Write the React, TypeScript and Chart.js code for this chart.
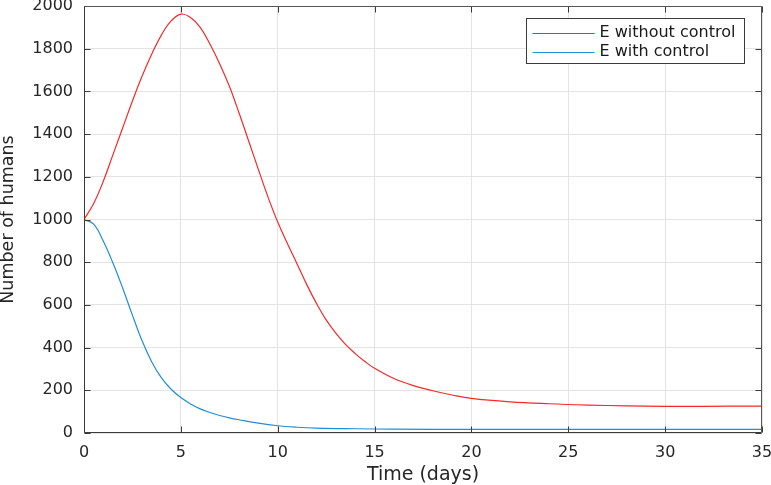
import React, { useEffect, useRef } from 'react';
import { Chart, registerables } from 'chart.js';

Chart.register(...registerables);

// Time (days) samples and values
const tWithout = [0, 0.5, 1, 1.5, 2, 2.5, 3, 3.5, 4, 4.5, 5, 5.5, 6, 6.5, 7, 7.5, 8, 8.5, 9, 9.5, 10, 10.5, 11, 11.5, 12, 12.5, 13, 13.5, 14, 14.5, 15, 16, 17, 18, 19, 20, 22, 24, 26, 28, 30, 32, 35];
const eWithout = [1000, 1075, 1180, 1305, 1430, 1555, 1672, 1775, 1865, 1930, 1962, 1946, 1900, 1822, 1730, 1625, 1500, 1368, 1235, 1105, 988, 888, 792, 695, 607, 530, 468, 415, 372, 335, 303, 255, 222, 198, 178, 162, 146, 137, 131, 127, 125, 125, 126];

const tWith = [0, 0.5, 1, 1.5, 2, 2.5, 3, 3.5, 4, 4.5, 5, 5.5, 6, 6.5, 7, 7.5, 8, 9, 10, 11, 12, 14, 16, 20, 25, 30, 35];
const eWith = [1000, 978, 898, 795, 678, 552, 432, 333, 258, 205, 166, 136, 113, 96, 82, 71, 62, 46, 34, 27, 23, 20, 18, 17, 17, 17, 17];

const seriesLabels = ['E without control', 'E with control'];
const seriesColors = ['#f42a2a', '#1f8fd6'];

const xTicks = [0, 5, 10, 15, 20, 25, 30, 35];
const yTicks = [0, 200, 400, 600, 800, 1000, 1200, 1400, 1600, 1800, 2000];

const FONT = "'DejaVu Sans', 'Liberation Sans', Arial, sans-serif";

const framePlugin = {
  id: 'matlabFrame',
  afterDatasetsDraw(chart: any) {
    const { ctx, chartArea: a, scales } = chart;
    const xs = scales.x;
    const ys = scales.y;
    const L = Math.round(a.left) + 0.5;
    const R = Math.round(a.right) - 0.5;
    const T = Math.round(a.top) + 0.5;
    const B = Math.round(a.bottom) - 0.5;
    const tl = 6;
    ctx.save();
    ctx.strokeStyle = '#3a3a3a';
    ctx.lineWidth = 1;
    ctx.beginPath();
    xTicks.forEach((v) => {
      const p = Math.round(xs.getPixelForValue(v)) + 0.5;
      ctx.moveTo(p, B);
      ctx.lineTo(p, B - tl);
      ctx.moveTo(p, T);
      ctx.lineTo(p, T + tl);
    });
    yTicks.forEach((v) => {
      const p = Math.round(ys.getPixelForValue(v)) + 0.5;
      ctx.moveTo(L, p);
      ctx.lineTo(L + tl, p);
      ctx.moveTo(R, p);
      ctx.lineTo(R - tl, p);
    });
    ctx.stroke();
    ctx.strokeStyle = '#555555';
    ctx.beginPath();
    ctx.moveTo(L, T);
    ctx.lineTo(R, T);
    ctx.lineTo(R, B);
    ctx.stroke();
    ctx.strokeStyle = '#3a3a3a';
    ctx.beginPath();
    ctx.moveTo(L, T);
    ctx.lineTo(L, B);
    ctx.lineTo(R, B);
    ctx.stroke();
    ctx.restore();
  },
};

const legendPlugin = {
  id: 'boxLegend',
  afterDraw(chart: any) {
    const { ctx, chartArea: a } = chart;
    const ds = chart.data.datasets;
    const w = 218;
    const rowH = 19.5;
    const h = 45;
    const x0 = Math.round(a.right) - 18 - w + 0.5;
    const y0 = Math.round(a.top) + 12 + 0.5;
    ctx.save();
    ctx.fillStyle = '#ffffff';
    ctx.fillRect(x0, y0, w, h);
    ctx.strokeStyle = '#3a3a3a';
    ctx.lineWidth = 1;
    ctx.strokeRect(x0, y0, w, h);
    ctx.font = `16px ${FONT}`;
    ctx.textBaseline = 'middle';
    ctx.textAlign = 'left';
    ds.forEach((d: any, i: number) => {
      const cy = y0 + 14 + i * rowH;
      ctx.strokeStyle = d.borderColor;
      ctx.lineWidth = 1;
      ctx.beginPath();
      ctx.moveTo(x0 + 6, Math.round(cy) + 0.5);
      ctx.lineTo(x0 + 68, Math.round(cy) + 0.5);
      ctx.stroke();
      ctx.fillStyle = '#1a1a1a';
      ctx.fillText(d.label, x0 + 73, cy);
    });
    ctx.restore();
  },
};

export default function App() {
  const ref = useRef<HTMLCanvasElement | null>(null);

  useEffect(() => {
    document.body.style.margin = '0';
    const canvas = ref.current;
    if (!canvas) return;
    const chart = new Chart(canvas, {
      type: 'line',
      data: {
        datasets: [
          {
            label: seriesLabels[0],
            data: tWithout.map((t, i) => ({ x: t, y: eWithout[i] })),
            borderColor: seriesColors[0],
            backgroundColor: seriesColors[0],
            borderWidth: 1.2,
            pointRadius: 0,
            tension: 0.4,
            fill: false,
          },
          {
            label: seriesLabels[1],
            data: tWith.map((t, i) => ({ x: t, y: eWith[i] })),
            borderColor: seriesColors[1],
            backgroundColor: seriesColors[1],
            borderWidth: 1.2,
            pointRadius: 0,
            tension: 0.4,
            fill: false,
          },
        ],
      },
      options: {
        animation: false,
        responsive: false,
        devicePixelRatio: 1,
        layout: { padding: { top: 6, right: 9, left: 0, bottom: 0 } },
        plugins: {
          legend: { display: false },
          tooltip: { enabled: false },
        },
        scales: {
          x: {
            type: 'linear',
            min: 0,
            max: 35,
            afterBuildTicks: (s: any) => {
              s.ticks = xTicks.map((v) => ({ value: v }));
            },
            afterFit: (s: any) => {
              s.height = 52;
              s.paddingLeft = 0;
              s.paddingRight = 0;
            },
            grid: { color: '#e4e4e4', lineWidth: 1, drawTicks: false },
            border: { display: false },
            ticks: {
              padding: 10,
              maxRotation: 0,
              color: '#262626',
              font: { family: FONT, size: 16 },
              callback: (v: any) => String(v),
            },
            title: {
              display: true,
              text: 'Time (days)',
              color: '#262626',
              font: { family: FONT, size: 19, lineHeight: 1 },
              padding: { top: 0, bottom: 0 },
            },
          },
          y: {
            type: 'linear',
            min: 0,
            max: 2000,
            afterBuildTicks: (s: any) => {
              s.ticks = yTicks.map((v) => ({ value: v }));
            },
            afterFit: (s: any) => {
              s.width = 84;
              s.paddingTop = 0;
              s.paddingBottom = 0;
            },
            grid: { color: '#e4e4e4', lineWidth: 1, drawTicks: false },
            border: { display: false },
            ticks: {
              padding: 11,
              color: '#262626',
              font: { family: FONT, size: 16 },
              callback: (v: any) => String(v),
            },
            title: {
              display: true,
              text: 'Number of humans',
              color: '#262626',
              font: { family: FONT, size: 17.5, lineHeight: 1 },
              padding: { top: 0, bottom: 0 },
            },
          },
        },
      },
      plugins: [framePlugin, legendPlugin],
    } as any);
    return () => chart.destroy();
  }, []);

  return (
    <div style={{ position: 'absolute', left: 0, top: 0, width: 771, height: 485, background: '#ffffff' }}>
      <canvas ref={ref} width={771} height={485} style={{ display: 'block', width: 771, height: 485 }} />
    </div>
  );
}
